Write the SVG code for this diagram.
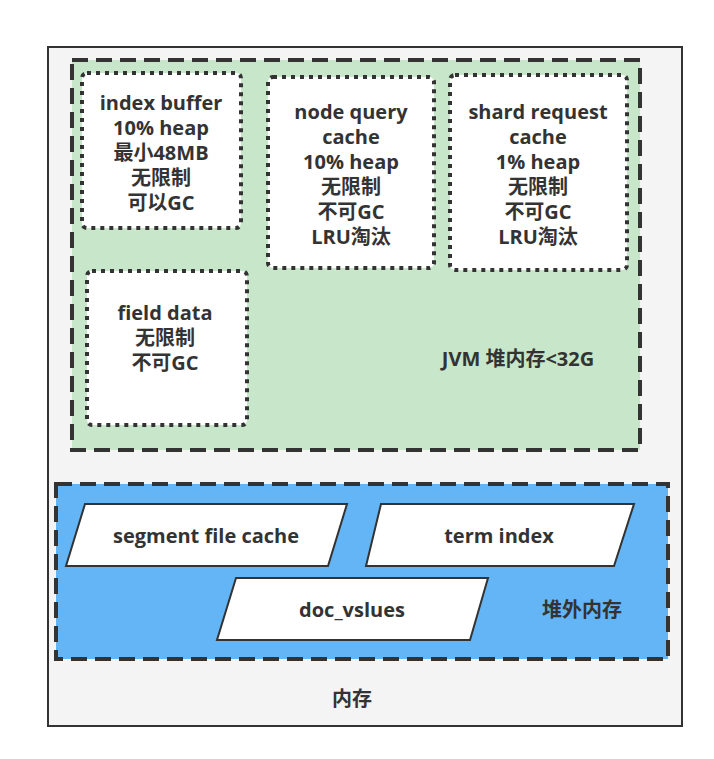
<svg xmlns="http://www.w3.org/2000/svg" width="714" height="759" viewBox="0 0 714 759">
<style>
text{font-family:"Open Sans","Noto Sans CJK SC",sans-serif;font-weight:bold;font-size:20px;fill:#333;text-anchor:middle;dominant-baseline:central}
.region{stroke:#333;stroke-width:4;stroke-dasharray:16 8}
.box{fill:#fff;stroke:#333;stroke-width:4;stroke-dasharray:4 5}
.para{fill:#fff;stroke:#333;stroke-width:2}
</style>
<rect width="714" height="759" fill="#fff"/>
<g id="memory">
<rect x="48" y="47" width="634" height="679" fill="#f4f4f4" stroke="#333" stroke-width="2"/>
<text x="352" y="698">内存</text>
</g>
<g id="jvm-heap">
<rect class="region" x="72" y="60" width="568" height="390" fill="#c8e6c9"/>
<text x="518" y="358">JVM 堆内存&lt;32G</text>
</g>
<g id="index-buffer">
<rect class="box" x="82" y="73" width="159" height="155" rx="5"/>
<text x="161" y="102">index buffer</text>
<text x="161" y="127">10% heap</text>
<text x="161" y="152">最小48MB</text>
<text x="161" y="177">无限制</text>
<text x="161" y="202">可以GC</text>
</g>
<g id="node-query-cache">
<rect class="box" x="268" y="77" width="166" height="191" rx="5"/>
<text x="351" y="111">node query</text>
<text x="351" y="136">cache</text>
<text x="351" y="161">10% heap</text>
<text x="351" y="186">无限制</text>
<text x="351" y="211">不可GC</text>
<text x="351" y="236">LRU淘汰</text>
</g>
<g id="shard-request-cache">
<rect class="box" x="450" y="75" width="177" height="195" rx="5"/>
<text x="538" y="111">shard request</text>
<text x="538" y="136">cache</text>
<text x="538" y="161">1% heap</text>
<text x="538" y="186">无限制</text>
<text x="538" y="211">不可GC</text>
<text x="538" y="236">LRU淘汰</text>
</g>
<g id="field-data">
<rect class="box" x="87" y="271" width="160" height="154" rx="5"/>
<text x="165" y="312">field data</text>
<text x="165" y="337">无限制</text>
<text x="165" y="362">不可GC</text>
</g>
<g id="off-heap">
<rect class="region" x="56" y="484" width="612" height="175" fill="#64b5f6"/>
<text x="582" y="609">堆外内存</text>
</g>
<g id="segment-file-cache">
<polygon class="para" points="85,504 347,504 328,566 66,566"/>
<text x="206" y="535">segment file cache</text>
</g>
<g id="term-index">
<polygon class="para" points="381,504 634,504 614,566 366,566"/>
<text x="499" y="535">term index</text>
</g>
<g id="doc-vslues">
<polygon class="para" points="236,578 488,578 470,640 217,640"/>
<text x="352" y="609">doc_vslues</text>
</g>
<g id="connectors"></g>
</svg>
